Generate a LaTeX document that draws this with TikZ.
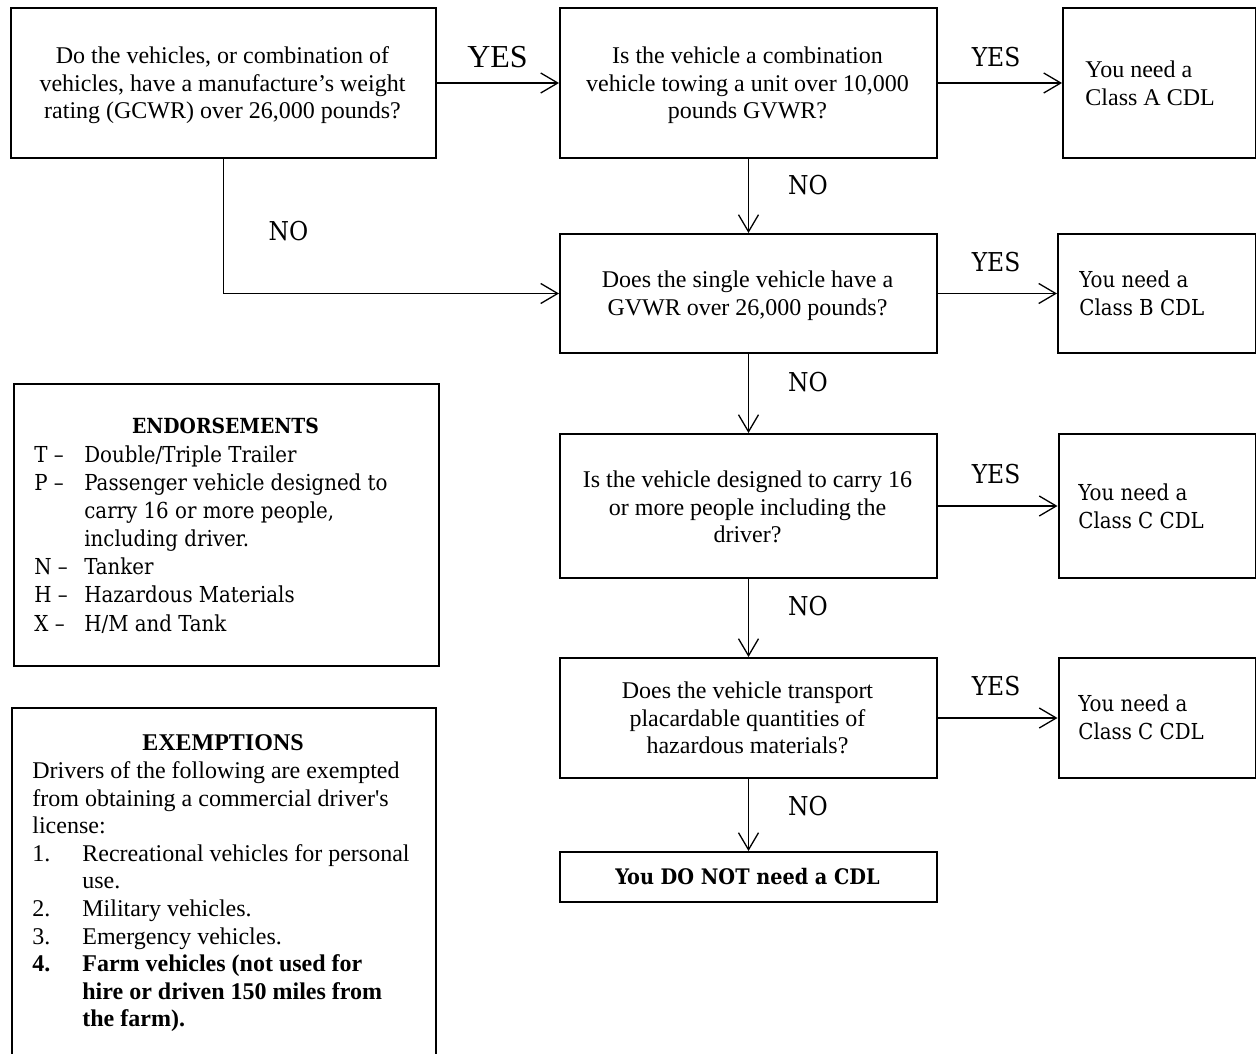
\documentclass[tikz,border=0pt]{standalone}
\usepackage{fontspec}
\setmainfont{Liberation Serif}[Ligatures=TeXOff]
\newfontfamily\cambfont{DejaVu Serif Condensed}
\usetikzlibrary{arrows.meta}
\begin{document}
\begin{tikzpicture}[x=0.5pt,y=-0.5pt,
  box/.style={draw, line width=1pt, inner sep=0pt, anchor=north west},
  conn/.style={line width=0.65pt, -{Straight Barb[length=8.5pt,width=10pt,line width=0.65pt]}},
  qtext/.style={inner sep=0pt, anchor=north, align=center, font=\fontsize{12}{13.8}\selectfont},
  ttext/.style={inner sep=0pt, anchor=north west, align=left, font=\fontsize{12}{13.8}\selectfont},
  ctext/.style={inner sep=0pt, anchor=north west, align=left, font=\cambfont\fontsize{11}{14.06}\selectfont},
  lbl/.style={inner sep=0pt, anchor=base, font=\cambfont\fontsize{13}{15}\selectfont},
  biglbl/.style={inner sep=0pt, anchor=base, font=\fontsize{16}{18}\selectfont}
]
\useasboundingbox (0,0) rectangle (1256,1053);
\clip (0,0) rectangle (1256,1053);

% flow boxes
\node[box, minimum width=212.5pt, minimum height=75pt] (q1) at (10,7) {};
\node[box, minimum width=188.5pt, minimum height=75pt] (q2) at (559,7) {};
\node[box, minimum width=96.25pt, minimum height=75pt] (ra) at (1062,7) {};
\node[box, minimum width=188.5pt, minimum height=59.5pt] (q3) at (559,233) {};
\node[box, minimum width=98.75pt, minimum height=59.5pt] (rb) at (1057,233) {};
\node[box, minimum width=188.5pt, minimum height=72pt] (q4) at (559,433) {};
\node[box, minimum width=98.5pt, minimum height=72pt] (rc1) at (1057.5,433) {};
\node[box, minimum width=188.5pt, minimum height=60pt] (q5) at (559,657) {};
\node[box, minimum width=98.5pt, minimum height=60pt] (rc2) at (1057.5,657) {};
\node[box, minimum width=188.5pt, minimum height=25pt] (fin) at (559,851) {};

% side boxes
\node[box, minimum width=212.5pt, minimum height=141pt] (endb) at (13,383) {};
\node[box, minimum width=212pt, minimum height=186.5pt] (exb) at (11,707) {};

% question texts
\node[qtext] (q1t) at (222.5,43.7) {\strut Do the vehicles, or combination of\\vehicles, have a manufacture’s weight\\rating (GCWR) over 26,000 pounds?};
\node[qtext] (q2t) at (747.5,43.7) {\strut Is the vehicle a combination\\vehicle towing a unit over 10,000\\pounds GVWR?};
\node[qtext] (q3t) at (747.5,267.7) {\strut Does the single vehicle have a\\GVWR over 26,000 pounds?};
\node[qtext] (q4t) at (747.5,467.7) {\strut Is the vehicle designed to carry 16\\or more people including the\\driver?};
\node[qtext] (q5t) at (747.5,678.7) {\strut Does the vehicle transport\\placardable quantities of\\hazardous materials?};

% result texts
\node[ttext] (rat) at (1085,57.7) {\strut You need a\\Class A CDL};
\node[ctext] (rbt) at (1079,267.3) {\strut You need a\\Class B CDL};
\node[ctext] (rc1t) at (1078,480.3) {\strut You need a\\Class C CDL};
\node[ctext] (rc2t) at (1078,691.3) {\strut You need a\\Class C CDL};
\node[inner sep=0pt, anchor=base, font=\cambfont\bfseries\fontsize{10.7}{13}\selectfont] (fint) at (747.5,884) {You DO NOT need a CDL};

% connectors
\draw[conn] (q1) -- (q2);
\draw[conn] (q2) -- (ra);
\draw[conn] (q2) -- (q3);
\draw[conn] (q1.south) |- (q3.west);
\draw[conn] (q3) -- (rb);
\draw[conn] (q3) -- (q4);
\draw[conn] (q4) -- (rc1);
\draw[conn] (q4) -- (q5);
\draw[conn] (q5) -- (rc2);
\draw[conn] (q5) -- (fin);

% labels
\node[biglbl] (y1) at (497.5,68) {YES};
\node[lbl] (y2) at (996,67) {YES};
\node[lbl] (y3) at (996,272) {YES};
\node[lbl] (y4) at (996,483) {YES};
\node[lbl] (y5) at (996,695) {YES};
\node[lbl] (n1) at (288.5,241) {NO};
\node[lbl] (n2) at (808,195) {NO};
\node[lbl] (n3) at (808,391) {NO};
\node[lbl] (n4) at (808,615) {NO};
\node[lbl] (n5) at (808,815) {NO};

% endorsements
\node[inner sep=0pt, anchor=base, font=\cambfont\bfseries\fontsize{10.4}{13}\selectfont] (endh) at (225.5,433) {ENDORSEMENTS};
\node[inner sep=0pt, anchor=north west, font=\cambfont\fontsize{11}{14.06}\selectfont] (endl) at (34,442.3) {%
\begin{tabular}{@{}p{25pt}@{}l@{}}
T –&Double/Triple Trailer\\
P –&Passenger vehicle designed to\\
&carry 16 or more people,\\
&including driver.\\
N –&Tanker\\
H –&Hazardous Materials\\
X –&H/M and Tank
\end{tabular}};

% exemptions
\node[inner sep=0pt, anchor=base, font=\bfseries\fontsize{12}{13.8}\selectfont] (exh) at (223,750) {EXEMPTIONS};
\node[inner sep=0pt, anchor=north west, font=\fontsize{12}{13.8}\selectfont] (exl) at (32,758.7) {%
\begin{tabular}{@{}p{25pt}@{}l@{}}
\multicolumn{2}{@{}l@{}}{Drivers of the following are exempted}\\
\multicolumn{2}{@{}l@{}}{from obtaining a commercial driver's}\\
\multicolumn{2}{@{}l@{}}{license:}\\
1.&Recreational vehicles for personal\\
&use.\\
2.&Military vehicles.\\
3.&Emergency vehicles.\\
\textbf{4.}&\textbf{Farm vehicles (not used for}\\
&\textbf{hire or driven 150 miles from}\\
&\textbf{the farm).}
\end{tabular}};
\end{tikzpicture}
\end{document}
